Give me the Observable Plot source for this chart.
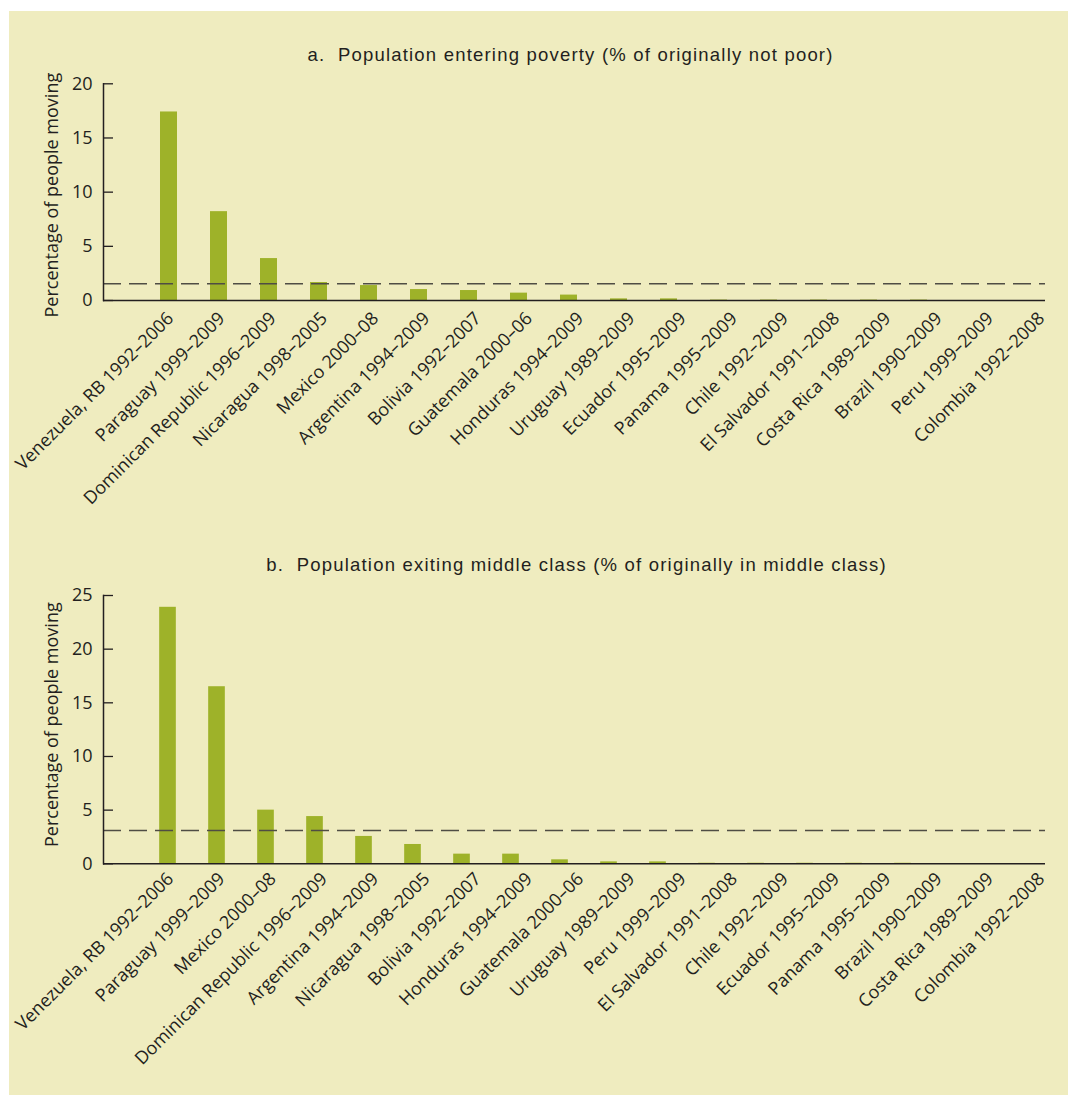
<!DOCTYPE html>
<html><head><meta charset="utf-8">
<script src="https://cdn.jsdelivr.net/npm/d3@7"></script>
<script src="https://cdn.jsdelivr.net/npm/@observablehq/plot@0.6"></script>
<style>
body{margin:0;background:#fff;width:1068px;height:1095px;overflow:hidden;position:relative;}
#panel{position:absolute;left:9px;top:11px;width:1059px;height:1084px;background:#EFECBF;}
.abs{position:absolute;left:0;}
.title{position:absolute;font-family:"Liberation Sans",Arial,sans-serif;font-size:18.5px;letter-spacing:1.2px;line-height:22px;color:#231F20;white-space:pre;transform:translateX(-50%);}
</style></head><body>
<div id="panel"></div>
<div id="root"></div>
<script>
// ---- data ----
const titleA = "a.  Population entering poverty (% of originally not poor)";
const catsA = ["Venezuela, RB 1992–2006","Paraguay 1999–2009","Dominican Republic 1996–2009","Nicaragua 1998–2005","Mexico 2000–08","Argentina 1994–2009","Bolivia 1992–2007","Guatemala 2000–06","Honduras 1994–2009","Uruguay 1989–2009","Ecuador 1995–2009","Panama 1995–2009","Chile 1992–2009","El Salvador 1991–2008","Costa Rica 1989–2009","Brazil 1990–2009","Peru 1999–2009","Colombia 1992–2008"];
const valsA = [17.4, 8.2, 3.87, 1.66, 1.38, 1.01, 0.92, 0.68, 0.5, 0.15, 0.15, 0.04, 0.04, 0.04, 0.04, 0.04, 0, 0];
const avgA = 1.54;
const ticksA = [0, 5, 10, 15, 20];

const titleB = "b.  Population exiting middle class (% of originally in middle class)";
const catsB = ["Venezuela, RB 1992–2006","Paraguay 1999–2009","Mexico 2000–08","Dominican Republic 1996–2009","Argentina 1994–2009","Nicaragua 1998–2005","Bolivia 1992–2007","Honduras 1994–2009","Guatemala 2000–06","Uruguay 1989–2009","Peru 1999–2009","El Salvador 1991–2008","Chile 1992–2009","Ecuador 1995–2009","Panama 1995–2009","Brazil 1990–2009","Costa Rica 1989–2009","Colombia 1992–2008"];
const valsB = [23.9, 16.5, 5.0, 4.4, 2.55, 1.8, 0.9, 0.9, 0.37, 0.18, 0.18, 0.05, 0.05, 0.05, 0.05, 0.05, 0, 0];
const avgB = 3.1;
const ticksB = [0, 5, 10, 15, 20, 25];

const yLabel = "Percentage of people moving";

// ---- drawing ----
const W = 1068, ML = 103, MR = 23;
const ink = "#231F20";
const root = document.getElementById("root");

function addTitle(text, cx, cy) {
  const d = document.createElement("div");
  d.className = "title";
  d.textContent = text;
  d.style.left = cx + "px";
  d.style.top = (cy - 11) + "px";
  root.appendChild(d);
}

function panel(cfg) {
  const data = cfg.cats.map((c, i) => ({c, v: cfg.vals[i]}));
  const style = {background: "transparent", fontFamily: "'Open Sans', sans-serif", fontSize: "17px", color: ink, overflow: "visible"};
  const chart = Plot.plot({
    width: W, height: cfg.height,
    marginLeft: ML, marginRight: MR, marginTop: cfg.mt, marginBottom: cfg.mb,
    style,
    x: {domain: cfg.cats, range: cfg.barRange, paddingInner: 0.66, paddingOuter: 0.33, round: false, axis: null},
    y: {domain: [0, d3.max(cfg.ticks)], axis: null},
    marks: [
      Plot.barY(data, {x: "c", y: "v", fill: "#9EB229"}),
      Plot.ruleY([cfg.avg], {stroke: "#4f4d44", strokeWidth: 1.6, strokeDasharray: "18,8"}),
      Plot.ruleY([0], {stroke: ink, strokeWidth: 1.5}),
      Plot.tickY(cfg.ticks, {y: d => d, stroke: ink, strokeWidth: 1.3, insetRight: (W - ML - MR) - 10}),
      Plot.frame({anchor: "left", stroke: ink, strokeWidth: 1.5}),
      Plot.axisY({ticks: cfg.ticks, tickSize: 0, tickPadding: 11, fontSize: 18, label: null}),
      Plot.text([yLabel], {frameAnchor: "left", text: d => d, rotate: -90, textAnchor: "middle", lineAnchor: "middle", dx: -51, dy: cfg.labelDy, fontSize: 18, fill: ink})
    ]
  });
  chart.classList.add("abs");
  chart.style.top = cfg.top + "px";
  root.appendChild(chart);

  const labels = Plot.plot({
    width: W, height: cfg.height,
    marginLeft: ML, marginRight: MR, marginTop: cfg.mt, marginBottom: cfg.mb,
    style,
    x: {type: "point", domain: cfg.cats, range: [170, 1041], padding: 0, round: false, axis: null},
    marks: [
      Plot.text(cfg.cats, {x: d => d, frameAnchor: "bottom", text: d => d, rotate: -45, textAnchor: "end", lineAnchor: "middle", dy: cfg.tickDy, fontSize: 18, fill: ink})
    ]
  });
  labels.classList.add("abs");
  labels.style.top = cfg.top + "px";
  root.appendChild(labels);
}

addTitle(titleA, 570.5, 55);
panel({cats: catsA, vals: valsA, avg: avgA, ticks: ticksA, top: 70, height: 440, mt: 13.3, mb: 210, barRange: [143.5, 1043.5], labelDy: 3, tickDy: 15});
addTitle(titleB, 576.5, 565);
panel({cats: catsB, vals: valsB, avg: avgB, ticks: ticksB, top: 580, height: 500, mt: 15, mb: 216.7, barRange: [143, 1025], labelDy: -5, tickDy: 12});
</script>
</body></html>
